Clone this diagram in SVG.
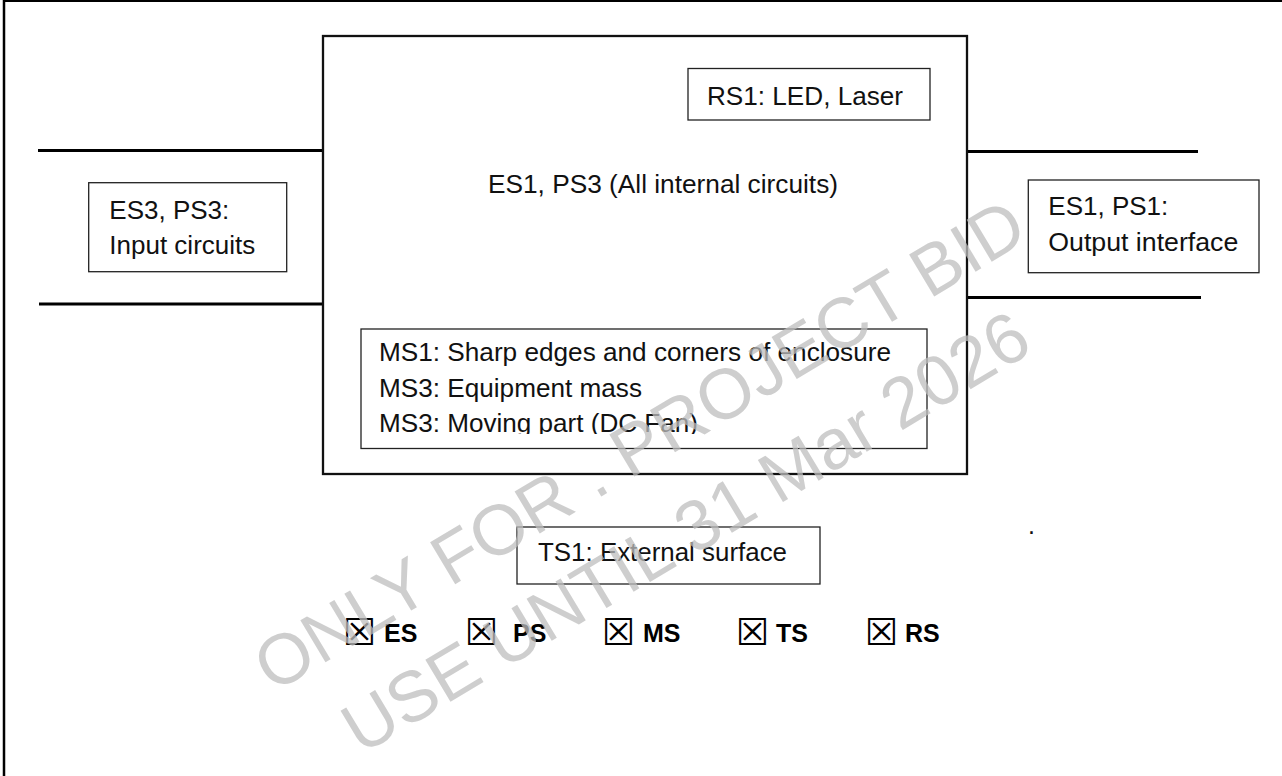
<svg xmlns="http://www.w3.org/2000/svg" width="1282" height="776" viewBox="0 0 1282 776">
<style>
.t{font-family:"Liberation Sans",Arial,sans-serif;font-size:25px;fill:#111}
.b{font-family:"Liberation Sans",Arial,sans-serif;font-size:25px;font-weight:bold;fill:#000}
.chk{font-family:"DejaVu Sans",sans-serif;font-size:37px;fill:#000}
.box{fill:none;stroke:#222;stroke-width:1.3}
.main{fill:none;stroke:#111;stroke-width:2.3}
.wire{stroke:#000;stroke-width:3;fill:none}
.wm{font-family:"Liberation Sans",Arial,sans-serif;font-size:71px;fill:#bdbdbd;fill-opacity:0.75;text-anchor:middle}
</style>
<defs>
<clipPath id="msclip"><rect x="350" y="328" width="580" height="106"/></clipPath>
</defs>
<rect width="1282" height="776" fill="#fff"/>
<g id="frame">
<line x1="3" y1="1" x2="1282" y2="1" stroke="#000" stroke-width="2"/>
<line x1="4" y1="0" x2="4" y2="776" stroke="#000" stroke-width="2.5"/>
</g>
<g id="connectors">
<line class="wire" x1="38" y1="150.5" x2="323" y2="150.5"/>
<line class="wire" x1="39" y1="304" x2="323" y2="304"/>
<line class="wire" x1="967" y1="151.5" x2="1198" y2="151.5"/>
<line class="wire" x1="967" y1="297.5" x2="1201" y2="297.5"/>
</g>
<g id="main-equipment">
<rect class="main" x="323" y="36" width="644" height="438"/>
<text class="t" x="488" y="193" textLength="350" lengthAdjust="spacingAndGlyphs">ES1, PS3 (All internal circuits)</text>
</g>
<g id="rs1">
<rect class="box" x="688" y="68.5" width="242" height="51.5"/>
<text class="t" x="707" y="105" textLength="196" lengthAdjust="spacingAndGlyphs">RS1: LED, Laser</text>
</g>
<g id="ms">
<rect class="box" x="361" y="329" width="566" height="119.5"/>
<g clip-path="url(#msclip)">
<text class="t" x="379" y="361" textLength="512" lengthAdjust="spacingAndGlyphs">MS1: Sharp edges and corners of enclosure</text>
<text class="t" x="379" y="397" textLength="263" lengthAdjust="spacingAndGlyphs">MS3: Equipment mass</text>
<text class="t" x="379" y="432" textLength="319" lengthAdjust="spacingAndGlyphs">MS3: Moving part (DC Fan)</text>
</g>
</g>
<g id="input">
<rect class="box" x="88.7" y="182.7" width="198" height="89"/>
<text class="t" x="109.3" y="219" textLength="120" lengthAdjust="spacingAndGlyphs">ES3, PS3:</text>
<text class="t" x="109.3" y="254" textLength="146" lengthAdjust="spacingAndGlyphs">Input circuits</text>
</g>
<g id="output">
<rect class="box" x="1028.3" y="180" width="230.7" height="92.7"/>
<text class="t" x="1048.3" y="215" textLength="120" lengthAdjust="spacingAndGlyphs">ES1, PS1:</text>
<text class="t" x="1048.3" y="251" textLength="190" lengthAdjust="spacingAndGlyphs">Output interface</text>
</g>
<g id="ts1">
<rect class="box" x="517" y="527" width="303" height="57"/>
<text class="t" x="538" y="561" textLength="249" lengthAdjust="spacingAndGlyphs">TS1: External surface</text>
</g>
<text class="t" x="1028" y="534" font-size="20">.</text>
<g id="legend">
<text><tspan class="chk" x="343" y="645">☒</tspan><tspan class="b" x="384" y="642">ES</tspan></text>
<text><tspan class="chk" x="465" y="645">☒</tspan><tspan class="b" x="513" y="642">PS</tspan></text>
<text><tspan class="chk" x="602" y="645">☒</tspan><tspan class="b" x="643" y="642">MS</tspan></text>
<text><tspan class="chk" x="736" y="645">☒</tspan><tspan class="b" x="776" y="642">TS</tspan></text>
<text><tspan class="chk" x="865" y="645">☒</tspan><tspan class="b" x="905" y="642">RS</tspan></text>
</g>
<g id="watermark">
<text class="wm" transform="translate(652,466) rotate(-31)">ONLY FOR . PROJECT BID</text>
<text class="wm" transform="translate(698,553) rotate(-31)">USE UNTIL 31 Mar 2026</text>
</g>
</svg>
